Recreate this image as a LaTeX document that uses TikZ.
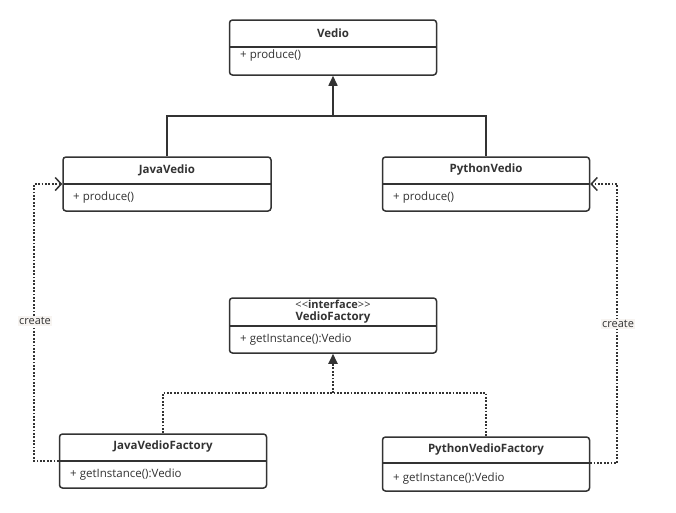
\documentclass[tikz,border=0pt]{standalone}
\usepackage{fontspec}
\setmainfont{Open Sans}
\usetikzlibrary{arrows.meta}
\definecolor{ink}{HTML}{333333}
\definecolor{lblbg}{HTML}{F7F4F1}
\tikzset{
  umlbox/.style={draw=ink, line width=1.5pt, rounded corners=3pt, fill=white},
  divline/.style={draw=ink, line width=1.2pt},
  ttl/.style={font=\fontsize{11.5}{13}\selectfont\bfseries, text=ink, inner sep=0pt},
  stereo/.style={font=\fontsize{11}{12}\selectfont, text=ink, inner sep=0pt},
  member/.style={font=\fontsize{11.5}{12}\selectfont, text=ink, anchor=west, inner sep=0pt},
  conn/.style={draw=ink, line width=1.6pt},
  dotconn/.style={draw=ink, line width=2pt, dash pattern=on 1.8pt off 1.6pt},
  lbl/.style={font=\fontsize{11}{12}\selectfont, text=ink, fill=lblbg, inner sep=1.5pt},
}
\begin{document}
\begin{tikzpicture}[x=1pt,y=-1pt]
\useasboundingbox (0,0) rectangle (676,512);
% Vedio
\node[umlbox, minimum width=207pt, minimum height=55pt] (vedio) at (333,47.5) {};
\draw[divline] (229.5,47) -- (436.5,47);
\node[ttl] (vedioT) at (333,33) {Vedio};
\node[member] (vedioM) at (240,55.5) {+ produce()};
% JavaVedio
\node[umlbox, minimum width=208pt, minimum height=54pt] (java) at (167,184) {};
\draw[divline] (63,184) -- (271,184);
\node[ttl] (javaT) at (167,170) {JavaVedio};
\node[member] (javaM) at (73,198) {+ produce()};
% PythonVedio
\node[umlbox, minimum width=207pt, minimum height=54pt] (python) at (486,184) {};
\draw[divline] (382.5,184) -- (589.5,184);
\node[ttl] (pythonT) at (486,170) {PythonVedio};
\node[member] (pythonM) at (393,198) {+ produce()};
% VedioFactory
\node[umlbox, minimum width=207pt, minimum height=55pt] (vf) at (333,325.5) {};
\draw[divline] (229.5,326) -- (436.5,326);
\node[stereo] (vfS) at (333,304) {{<}{<}\textbf{interface}{>}{>}};
\node[ttl] (vfT) at (333,318) {VedioFactory};
\node[member] (vfM) at (240,340) {+ getInstance():Vedio};
% JavaVedioFactory
\node[umlbox, minimum width=207pt, minimum height=54pt] (jf) at (163,461) {};
\draw[divline] (59.5,461) -- (266.5,461);
\node[ttl] (jfT) at (163,447) {JavaVedioFactory};
\node[member] (jfM) at (70,475) {+ getInstance():Vedio};
% PythonVedioFactory
\node[umlbox, minimum width=207pt, minimum height=54pt] (pf) at (486,464) {};
\draw[divline] (382.5,463) -- (589.5,463);
\node[ttl] (pfT) at (486,450) {PythonVedioFactory};
\node[member] (pfM) at (393,478) {+ getInstance():Vedio};
% inheritance
\coordinate (inh) at (333,116);
\draw[conn] (java.north) |- (inh) -| (python.north);
\draw[conn, -{Triangle[length=10pt,width=9pt]}] (inh) -- (vedio.south);
% realization
\coordinate (real) at (333,393);
\draw[dotconn] (jf.north) |- (real) -| (pf.north);
\draw[dotconn, -{Triangle[length=10pt,width=9pt]}] (real) -- (vf.south);
% create
\coordinate (lc1) at (34,461);
\coordinate (lc2) at (34,184);
\draw[dotconn, -{Straight Barb[length=6pt,width=13pt,line width=1.5pt]}] (jf.west |- lc1) -- (lc1) -- (lc2) -- (java.west);
\node[lbl] (lcl) at (35,321) {create};
\coordinate (rc1) at (617,463);
\coordinate (rc2) at (617,184);
\draw[dotconn, -{Straight Barb[length=6pt,width=13pt,line width=1.5pt]}] (pf.east |- rc1) -- (rc1) -- (rc2) -- (python.east);
\node[lbl] (rcl) at (618,324) {create};
\end{tikzpicture}
\end{document}
